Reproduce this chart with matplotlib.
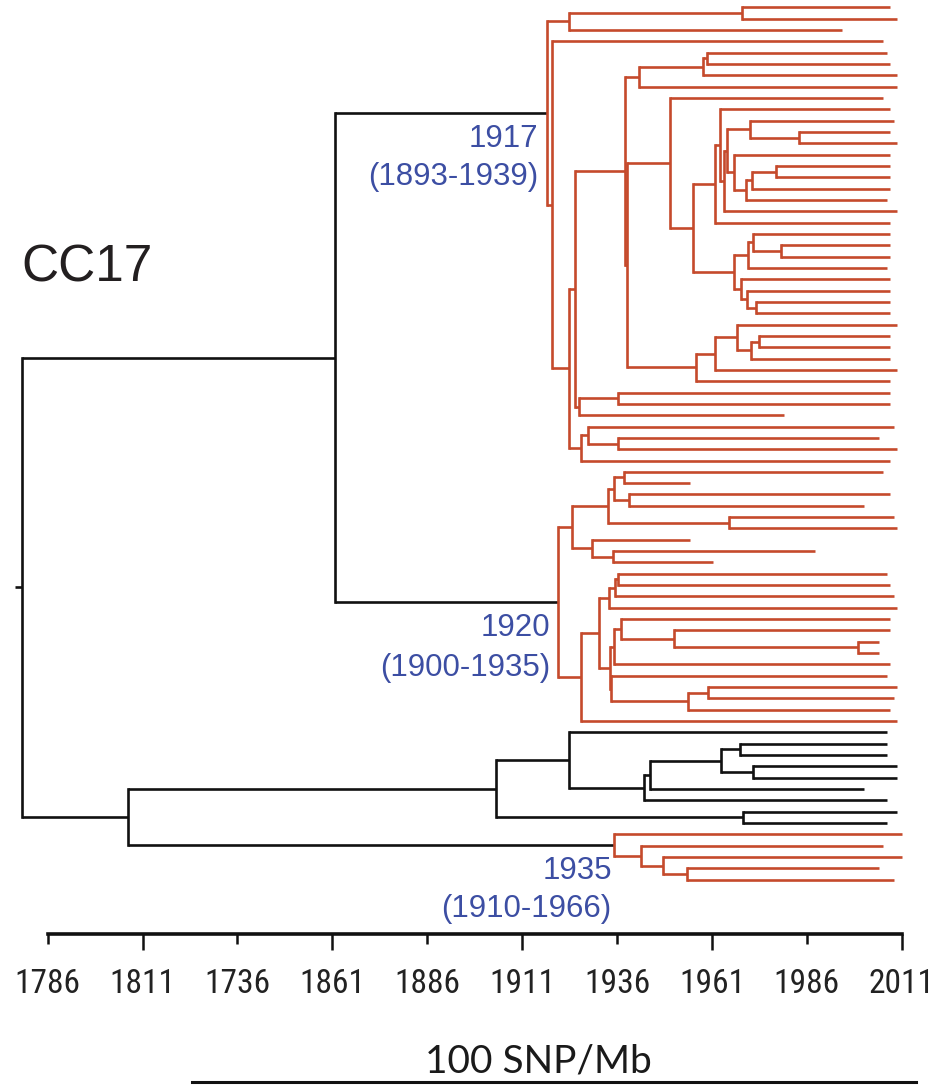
import matplotlib
matplotlib.use("Agg")
import matplotlib.pyplot as plt
from matplotlib.collections import LineCollection
from matplotlib.lines import Line2D
from matplotlib import font_manager

# ---------------- data ----------------
# Newick strings: tip "names" are sampling years, internal labels are node dates (years)
clade_1917 = (
    "("
    "((2008.0,2009.8)1968.9,1995.3)1923.3,"
    "(2006.0,"
    "(("
    "((((2007.0,2008.0)1959.6,2009.8)1958.6,2009.8)1941.8,"
    "((2006.0,"
    "(((2008.0,(((2009.0,(2008.0,2009.8)1984.0)1971.0,"
    "(2008.0,(((2008.0,2008.0)1977.8,2008.0)1971.5,2007.0)1969.9)1966.8)1964.9,"
    "2009.8)1964.2)1963.1,2008.0)1961.8,"
    "(((2008.0,(2008.0,2008.0)1979.2)1971.9,2007.0)1970.4,"
    "(2008.0,(2008.0,(2008.0,2008.0)1972.6)1970.1)1968.7)1966.8"
    ")1956.1)1950.0,"
    "(((2009.8,((2008.0,2008.0)1973.5,2008.0)1971.2)1967.7,2009.8)1961.8,2008.0)1956.7"
    ")1938.5)1938.1,"
    "((2008.0,2008.0)1936.2,1980.0)1926.0"
    ")1924.9,"
    "((2009.0,(2004.9,2009.8)1936.2)1928.4,2008.0)1926.4"
    ")1923.3)1918.8"
    ")1917.5"
)
clade_1920 = (
    "(("
    "(((2006.0,1955.2)1937.8,(2008.0,2001.1)1939.1)1935.1,(2009.0,2009.8)1965.6)1933.7,"
    "(1955.2,(1988.1,1961.2)1934.8)1929.4"
    ")1924.2,"
    "(("
    "(((2007.0,2008.0)1936.2,2009.0)1935.5,2009.8)1934.0,"
    "(((2008.0,(2008.0,(2005.0,2005.0)1999.5)1951.0)1937.0,2008.0)1935.1,"
    "(2007.0,((2009.8,2009.0)1959.9,2008.0)1954.6)1934.5)1934.2"
    ")1931.3,2009.8)1926.5"
    ")1920.5"
)
clade_other = (
    "((2007.2,((((2007.2,2007.2)1968.4,(2009.8,2009.8)1971.7)1963.4,2001.1)1944.7,"
    "2007.2)1943.1)1923.4,(2009.8,2007.2)1969.2)1904.1"
)
clade_1935 = "(2011.0,(2006.1,(2011.0,(2005.0,2009.0)1954.5)1948.2)1942.3)1935.3"

backbone_dates = [1779.2, 1861.7, 1807.2]   # root, CC17-upper join, lower join
root_stem_start = 1777.4

node_labels = ["1917", "1920", "1935"]
node_ranges = ["(1893-1939)", "(1900-1935)", "(1910-1966)"]

major_ticks = [1811, 1861, 1911, 1961, 2011]
major_labels = ["1811", "1861", "1911", "1961", "2011"]
minor_ticks = [1786, 1836, 1886, 1936, 1986]
minor_labels = ["1786", "1736", "1886", "1936", "1986"]

RED = "#C54A2C"
BLACK = "#111111"
BLUE = "#3C4EA3"


# ---------------- helpers ----------------
def parse(s):
    pos = 0

    def read_num():
        nonlocal pos
        st = pos
        while pos < len(s) and s[pos] not in ",()":
            pos += 1
        return float(s[st:pos])

    def node():
        nonlocal pos
        if s[pos] == "(":
            pos += 1
            kids = [node()]
            while s[pos] == ",":
                pos += 1
                kids.append(node())
            pos += 1  # ')'
            return {"t": read_num(), "kids": kids}
        return {"t": read_num(), "kids": []}

    return node()


def set_color(n, c):
    n["c"] = c
    for k in n["kids"]:
        set_color(k, c)


c1917 = parse(clade_1917); set_color(c1917, RED)
c1920 = parse(clade_1920); set_color(c1920, RED)
cother = parse(clade_other); set_color(cother, BLACK)
c1935 = parse(clade_1935); set_color(c1935, RED)

upper = {"t": backbone_dates[1], "kids": [c1917, c1920], "c": BLACK}
lower = {"t": backbone_dates[2], "kids": [cother, c1935], "c": BLACK}
root = {"t": backbone_dates[0], "kids": [upper, lower], "c": BLACK}

counter = [0]


def layout(n):
    if not n["kids"]:
        n["y"] = counter[0]
        counter[0] += 1
    else:
        for k in n["kids"]:
            layout(k)
        n["y"] = 0.5 * (n["kids"][0]["y"] + n["kids"][-1]["y"])


layout(root)

hsegs, hcols, vsegs, vcols = [], [], [], []


def collect(n):
    if n["kids"]:
        vsegs.append([(n["t"], n["kids"][0]["y"]), (n["t"], n["kids"][-1]["y"])])
        vcols.append(n["c"])
        for k in n["kids"]:
            hsegs.append([(n["t"], k["y"]), (k["t"], k["y"])])
            hcols.append(n["c"])
            collect(k)


collect(root)
hsegs.append([(root_stem_start, root["y"]), (root["t"], root["y"])])
hcols.append(BLACK)


def find_font(family, stretch="normal", need=None):
    try:
        fp = font_manager.FontProperties(family=family, stretch=stretch)
        path = font_manager.findfont(fp, fallback_to_default=False)
    except Exception:
        return None
    if need and need.lower() not in path.lower().replace(" ", ""):
        return None
    return fp


# ---------------- figure ----------------
W, H, DPI = 934, 1085, 100
fig = plt.figure(figsize=(W / DPI, H / DPI), dpi=DPI)
fig.patch.set_facecolor("white")

AX_H = 934
ax = fig.add_axes([0, 1 - AX_H / H, 1, AX_H / H])
x0 = 1786 - 47.7 * 0.26344
x1 = x0 + W * 0.26344
ax.set_xlim(x0, x1)
y_top = (0 - 7.3) / 11.33
y_bot = (AX_H - 7.3) / 11.33
ax.set_ylim(y_bot, y_top)
ax.set_facecolor("none")

LW = 1.9
ax.add_collection(LineCollection(hsegs, colors=hcols, linewidths=LW, capstyle="butt"))
ax.add_collection(LineCollection(vsegs, colors=vcols, linewidths=LW, capstyle="projecting"))


def px2yr(x):
    return x0 + x * 0.26344


def py2i(y):
    return (y - 7.3) / 11.33


main_font = ["Liberation Sans", "DejaVu Sans"]
ann_size = 22.5
label_pos = [(538, 146.7, 185.0), (550.7, 636.0, 676.0), (611.7, 879.0, 917.0)]
for (xr, yb1, yb2), lab, rng in zip(label_pos, node_labels, node_ranges):
    ax.text(px2yr(xr), py2i(yb1), lab, ha="right", va="baseline",
            color=BLUE, fontsize=ann_size, family=main_font)
    ax.text(px2yr(xr), py2i(yb2), rng, ha="right", va="baseline",
            color=BLUE, fontsize=ann_size, family=main_font)

ax.text(px2yr(21.5), py2i(281.7), "CC17", ha="left", va="baseline",
        color="#231F20", fontsize=37, family=main_font)

# time axis
for s in ["top", "left", "right"]:
    ax.spines[s].set_visible(False)
ax.spines["bottom"].set_linewidth(2.6)
ax.spines["bottom"].set_color(BLACK)
ax.spines["bottom"].set_bounds(1786, 2011)
ax.set_yticks([])

# pick a narrow face for tick labels if one is installed
tick_fp = (find_font("Liberation Sans Narrow")
           or find_font("Arial Narrow")
           or find_font("Roboto Condensed")
           or find_font("Noto Sans", "condensed", need="Condensed")
           or find_font("DejaVu Sans", "condensed", need="Condensed")
           or font_manager.FontProperties(family="Liberation Sans"))
# size so that a 4-digit label is ~66 px wide and digits at most ~27 px tall
renderer = fig.canvas.get_renderer()
probe = fig.text(0, 0, "1786", fontproperties=tick_fp, fontsize=20)
bb = probe.get_window_extent(renderer)
probe.remove()
tick_size = 20 * 66.0 / bb.width
tick_size = min(tick_size, 27.0)

ax.set_xticks(major_ticks, labels=major_labels)
ax.set_xticks(minor_ticks, labels=minor_labels, minor=True)
long_len, short_len = 11.5, 7.2
ax.tick_params(axis="x", which="major", direction="out", length=long_len, width=1.8,
               color=BLACK, pad=13.0, labelcolor="#222222")
ax.tick_params(axis="x", which="minor", direction="out", length=short_len, width=1.8,
               color=BLACK, pad=13.0 + (long_len - short_len), labelcolor="#222222")
for lab in ax.get_xticklabels(which="both"):
    lab.set_fontproperties(tick_fp)
    lab.set_fontsize(tick_size)

# scale bar
snp_family = ["Lato", "Open Sans", "DejaVu Sans"]
fig.text(538.5 / W, 1 - 1073 / H, "100 SNP/Mb", ha="center", va="baseline",
         fontsize=28, color="#1A1A1A", family=snp_family)
fig.add_artist(Line2D([192 / W, 916 / W], [1 - 1082 / H, 1 - 1082 / H],
                      transform=fig.transFigure, color=BLACK, linewidth=2.2))

fig.savefig("out.png", dpi=DPI, facecolor="white")
